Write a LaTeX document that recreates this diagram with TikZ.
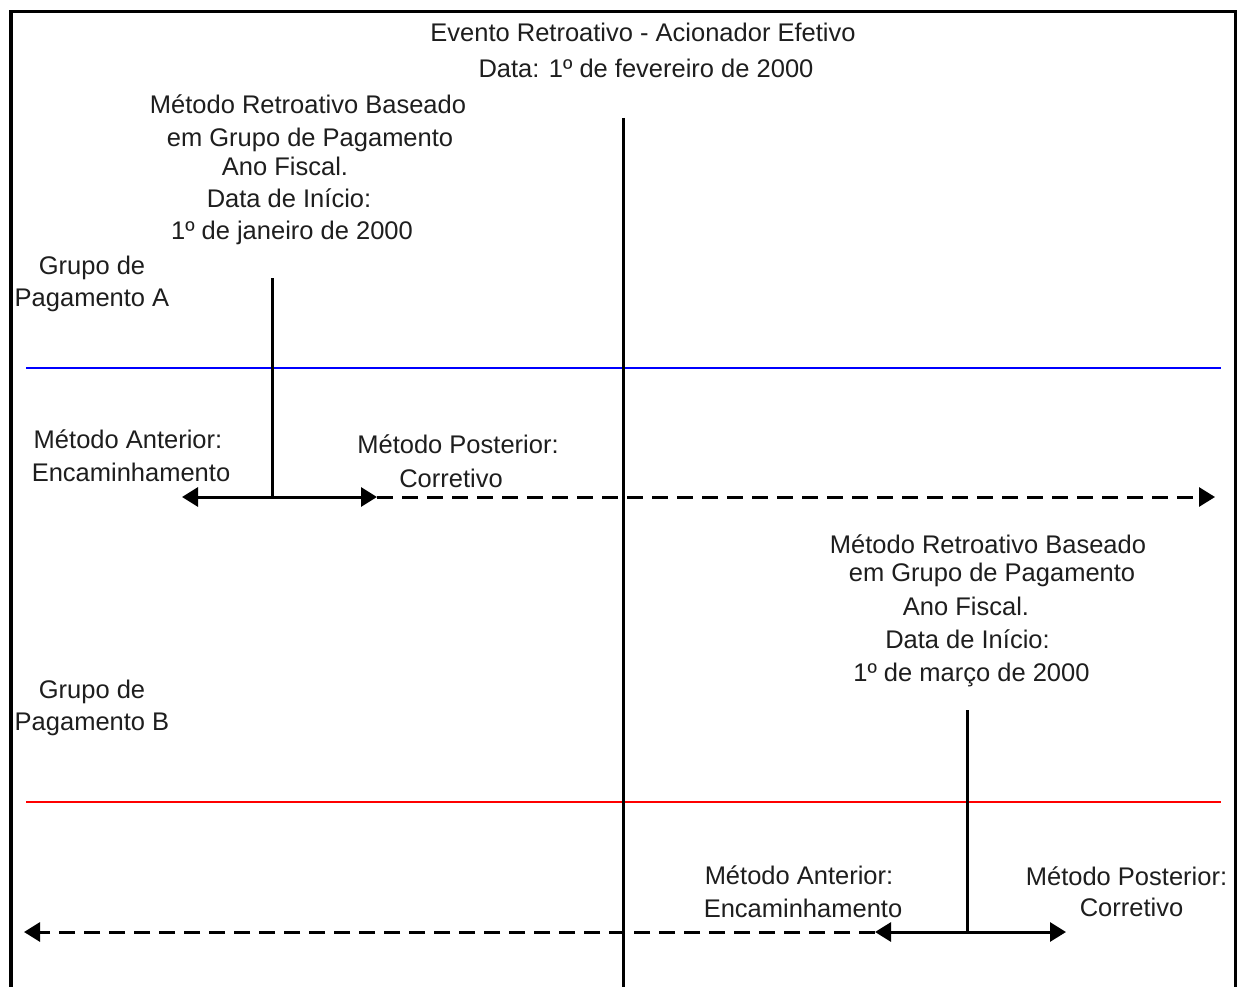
\documentclass[tikz,border=0pt]{standalone}
\usepackage{fontspec}
\setmainfont{Liberation Sans}
\usetikzlibrary{arrows.meta}
\definecolor{lineblue}{RGB}{0,0,255}
\definecolor{linered}{RGB}{255,0,0}
\definecolor{txtgray}{RGB}{30,30,30}
\tikzset{
  txt/.style={font=\fontsize{25.5}{30}\selectfont, text=txtgray, inner sep=0pt, anchor=base},
  frame/.style={line width=3.2pt, black},
  bar/.style={line width=3pt, black},
  tip/.style={-{Triangle[length=16pt,width=19pt]}},
  dashline/.style={line width=3pt, black, dash pattern=on 16pt off 9pt},
  blueline/.style={line width=2.8pt, lineblue},
  redline/.style={line width=2.8pt, linered}
}
\begin{document}
\begin{tikzpicture}[x=1pt,y=-1pt]
\useasboundingbox (0,0) rectangle (1237,987);
\fill[white] (0,0) rectangle (1237,987);
% frame (open at bottom)
\coordinate (fbl) at (11,987);
\coordinate (ftl) at (11,11.5);
\coordinate (ftr) at (1235.5,11.5);
\coordinate (fbr) at (1235.5,987);
\draw[frame] (fbl) -- (ftl) -- (ftr) -- (fbr);

% title
\node[txt] (title) at (643,41.7) {Evento Retroativo - Acionador Efetivo};
\node[txt] (date) at (646,78) {Data: 1º de fevereiro de 2000};

% horizontal colored lines
\coordinate (bl) at (26,368);
\coordinate (br) at (1221,368);
\coordinate (rl) at (26,802);
\coordinate (rr) at (1221,802);
\draw[blueline] (bl) -- (br);
\draw[redline] (rl) -- (rr);

% central vertical line
\coordinate (ctop) at (623,118);
\coordinate (cbot) at (623,987);
\draw[bar] (ctop) -- (cbot);

% block A text
\node[txt] (a1) at (308,114) {Método Retroativo Baseado};
\node[txt] (a2) at (310,146.7) {em Grupo de Pagamento};
\node[txt] (a3) at (285,175.7) {Ano Fiscal.};
\node[txt] (a4) at (289,207.7) {Data de Início:};
\node[txt] (a5) at (292,240) {1º de janeiro de 2000};

\node[txt] (ga1) at (92,274) {Grupo de};
\node[txt] (ga2) at (92,306) {Pagamento A};

\node[txt] (aa1) at (128,448) {Método Anterior:};
\node[txt] (aa2) at (131,481.5) {Encaminhamento};
\node[txt] (ap1) at (458,453) {Método Posterior:};
\node[txt] (ap2) at (451,487) {Corretivo};

% group A bars
\coordinate (vatop) at (272,278);
\coordinate (vabot) at (272,497);
\coordinate (aleft) at (182,497);
\coordinate (aright) at (377,497);
\coordinate (aend) at (1215,497);
\draw[bar] (vatop) -- (vabot);
\draw[bar,tip] (vabot) -- (aleft);
\draw[bar,tip] (vabot) -- (aright);
\draw[dashline,tip] (aright) -- (aend);

% block B text
\node[txt] (b1) at (988,553) {Método Retroativo Baseado};
\node[txt] (b2) at (992,581.7) {em Grupo de Pagamento};
\node[txt] (b3) at (966,615) {Ano Fiscal.};
\node[txt] (b4) at (967.5,648) {Data de Início:};
\node[txt] (b5) at (971.5,681.7) {1º de março de 2000};

\node[txt] (gb1) at (92,698) {Grupo de};
\node[txt] (gb2) at (92,730) {Pagamento B};

\node[txt] (ba1) at (799,884) {Método Anterior:};
\node[txt] (ba2) at (803,917) {Encaminhamento};
\node[txt] (bp1) at (1126.5,885) {Método Posterior:};
\node[txt] (bp2) at (1131.5,916.7) {Corretivo};

% group B bars
\coordinate (vbtop) at (967,710);
\coordinate (vbbot) at (967,932);
\coordinate (bleft) at (875,932);
\coordinate (bright) at (1066,932);
\coordinate (bend) at (24,932);
\draw[bar] (vbtop) -- (vbbot);
\draw[bar,tip] (vbbot) -- (bleft);
\draw[bar,tip] (vbbot) -- (bright);
\draw[dashline,tip] (bleft) -- (bend);
\end{tikzpicture}
\end{document}
